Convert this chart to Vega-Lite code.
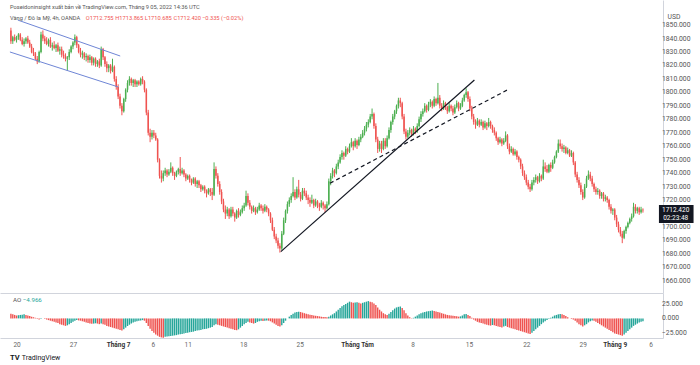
{
"$schema": "https://vega.github.io/schema/vega-lite/v6.json",
"padding": 0,
"background": "#ffffff",
"spacing": 0,
"bounds": "flush",
"config": {"view": {"stroke": null}, "font": "Roboto", "axis": {"grid": false}},
"resolve": {"scale": {"x": "independent", "y": "independent"}},
"datasets": {"k": [
{"i":0,"o":1846,"h":1848,"l":1836,"c":1838,"a":8},
{"i":1,"o":1838,"h":1842,"l":1836,"c":1841,"a":7},
{"i":2,"o":1841,"h":1843,"l":1838,"c":1839,"a":6},
{"i":3,"o":1839,"h":1842,"l":1837,"c":1841,"a":5},
{"i":4,"o":1841,"h":1844,"l":1839,"c":1843,"a":5.5},
{"i":5,"o":1843,"h":1844,"l":1838,"c":1839,"a":6},
{"i":6,"o":1839,"h":1841,"l":1835,"c":1836,"a":6.5},
{"i":7,"o":1836,"h":1840,"l":1834,"c":1838,"a":7},
{"i":8,"o":1838,"h":1841,"l":1836,"c":1840,"a":6},
{"i":9,"o":1840,"h":1842,"l":1836,"c":1837,"a":5},
{"i":10,"o":1837,"h":1839,"l":1833,"c":1834,"a":4},
{"i":11,"o":1834,"h":1836,"l":1829,"c":1830,"a":3},
{"i":12,"o":1830,"h":1833,"l":1827,"c":1829,"a":2},
{"i":13,"o":1829,"h":1830,"l":1824,"c":1825,"a":1},
{"i":14,"o":1825,"h":1827,"l":1821,"c":1823,"a":-1},
{"i":15,"o":1823,"h":1831,"l":1822,"c":1830,"a":-2},
{"i":16,"o":1830,"h":1845,"l":1829,"c":1843,"a":-1},
{"i":17,"o":1843,"h":1846,"l":1838,"c":1840,"a":0},
{"i":18,"o":1840,"h":1842,"l":1836,"c":1838,"a":-1},
{"i":19,"o":1838,"h":1841,"l":1835,"c":1836,"a":-2},
{"i":20,"o":1836,"h":1840,"l":1834,"c":1839,"a":-3},
{"i":21,"o":1839,"h":1841,"l":1833,"c":1834,"a":-4},
{"i":22,"o":1834,"h":1837,"l":1831,"c":1835,"a":-5},
{"i":23,"o":1835,"h":1838,"l":1832,"c":1833,"a":-6},
{"i":24,"o":1833,"h":1836,"l":1830,"c":1835,"a":-7},
{"i":25,"o":1835,"h":1837,"l":1830,"c":1831,"a":-8},
{"i":26,"o":1831,"h":1834,"l":1828,"c":1832,"a":-10},
{"i":27,"o":1832,"h":1834,"l":1826,"c":1828,"a":-11},
{"i":28,"o":1828,"h":1831,"l":1825,"c":1827,"a":-12},
{"i":29,"o":1827,"h":1829,"l":1823,"c":1825,"a":-13},
{"i":30,"o":1825,"h":1827,"l":1816,"c":1826,"a":-12},
{"i":31,"o":1826,"h":1832,"l":1824,"c":1830,"a":-10},
{"i":32,"o":1830,"h":1835,"l":1829,"c":1834,"a":-8},
{"i":33,"o":1834,"h":1838,"l":1832,"c":1837,"a":-6},
{"i":34,"o":1837,"h":1843,"l":1835,"c":1841,"a":-4},
{"i":35,"o":1841,"h":1842,"l":1833,"c":1835,"a":-3},
{"i":36,"o":1835,"h":1836,"l":1829,"c":1830,"a":-3.5},
{"i":37,"o":1830,"h":1833,"l":1826,"c":1828,"a":-4},
{"i":38,"o":1828,"h":1831,"l":1825,"c":1829,"a":-5},
{"i":39,"o":1829,"h":1830,"l":1824,"c":1826,"a":-6},
{"i":40,"o":1826,"h":1829,"l":1823,"c":1827,"a":-7},
{"i":41,"o":1827,"h":1828,"l":1822,"c":1824,"a":-8},
{"i":42,"o":1824,"h":1828,"l":1822,"c":1826,"a":-9},
{"i":43,"o":1826,"h":1827,"l":1820,"c":1822,"a":-9.5},
{"i":44,"o":1822,"h":1826,"l":1820,"c":1825,"a":-9},
{"i":45,"o":1825,"h":1826,"l":1819,"c":1821,"a":-8.5},
{"i":46,"o":1821,"h":1824,"l":1819,"c":1823,"a":-9},
{"i":47,"o":1823,"h":1825,"l":1818,"c":1820,"a":-10},
{"i":48,"o":1820,"h":1834,"l":1819,"c":1832,"a":-9},
{"i":49,"o":1832,"h":1833,"l":1824,"c":1826,"a":-10},
{"i":50,"o":1826,"h":1827,"l":1819,"c":1821,"a":-11},
{"i":51,"o":1821,"h":1823,"l":1815,"c":1818,"a":-13},
{"i":52,"o":1818,"h":1821,"l":1815,"c":1820,"a":-14},
{"i":53,"o":1820,"h":1821,"l":1814,"c":1816,"a":-15},
{"i":54,"o":1816,"h":1825,"l":1815,"c":1819,"a":-16},
{"i":55,"o":1819,"h":1820,"l":1808,"c":1810,"a":-17},
{"i":56,"o":1810,"h":1812,"l":1802,"c":1804,"a":-18},
{"i":57,"o":1804,"h":1806,"l":1795,"c":1797,"a":-19},
{"i":58,"o":1797,"h":1799,"l":1788,"c":1790,"a":-20},
{"i":59,"o":1790,"h":1792,"l":1783,"c":1786,"a":-21},
{"i":60,"o":1786,"h":1796,"l":1785,"c":1795,"a":-19},
{"i":61,"o":1795,"h":1803,"l":1793,"c":1802,"a":-16},
{"i":62,"o":1802,"h":1809,"l":1800,"c":1807,"a":-13},
{"i":63,"o":1807,"h":1812,"l":1805,"c":1810,"a":-11},
{"i":64,"o":1810,"h":1811,"l":1805,"c":1807,"a":-9},
{"i":65,"o":1807,"h":1810,"l":1804,"c":1809,"a":-7},
{"i":66,"o":1809,"h":1810,"l":1804,"c":1806,"a":-6},
{"i":67,"o":1806,"h":1809,"l":1804,"c":1808,"a":-5},
{"i":68,"o":1808,"h":1809,"l":1805,"c":1806,"a":-4},
{"i":69,"o":1806,"h":1811,"l":1805,"c":1810,"a":-3.5},
{"i":70,"o":1810,"h":1812,"l":1806,"c":1808,"a":-3},
{"i":71,"o":1808,"h":1809,"l":1800,"c":1802,"a":-4},
{"i":72,"o":1802,"h":1803,"l":1783,"c":1785,"a":-8},
{"i":73,"o":1785,"h":1787,"l":1768,"c":1770,"a":-13},
{"i":74,"o":1770,"h":1773,"l":1763,"c":1767,"a":-18},
{"i":75,"o":1767,"h":1772,"l":1765,"c":1770,"a":-22},
{"i":76,"o":1770,"h":1772,"l":1766,"c":1768,"a":-25},
{"i":77,"o":1768,"h":1770,"l":1764,"c":1765,"a":-28},
{"i":78,"o":1765,"h":1766,"l":1748,"c":1750,"a":-30},
{"i":79,"o":1750,"h":1751,"l":1736,"c":1738,"a":-32},
{"i":80,"o":1738,"h":1742,"l":1733,"c":1736,"a":-33},
{"i":81,"o":1736,"h":1742,"l":1734,"c":1740,"a":-33.5},
{"i":82,"o":1740,"h":1744,"l":1738,"c":1742,"a":-32},
{"i":83,"o":1742,"h":1743,"l":1737,"c":1739,"a":-31.5},
{"i":84,"o":1739,"h":1743,"l":1738,"c":1741,"a":-31},
{"i":85,"o":1741,"h":1748,"l":1740,"c":1744,"a":-30.5},
{"i":86,"o":1744,"h":1745,"l":1738,"c":1740,"a":-30},
{"i":87,"o":1740,"h":1741,"l":1735,"c":1738,"a":-29.5},
{"i":88,"o":1738,"h":1742,"l":1737,"c":1741,"a":-29},
{"i":89,"o":1741,"h":1744,"l":1739,"c":1743,"a":-28},
{"i":90,"o":1743,"h":1752,"l":1738,"c":1740,"a":-27.5},
{"i":91,"o":1740,"h":1744,"l":1739,"c":1742,"a":-27},
{"i":92,"o":1742,"h":1743,"l":1737,"c":1739,"a":-26},
{"i":93,"o":1739,"h":1740,"l":1734,"c":1736,"a":-25.5},
{"i":94,"o":1736,"h":1739,"l":1735,"c":1738,"a":-25},
{"i":95,"o":1738,"h":1739,"l":1733,"c":1735,"a":-24},
{"i":96,"o":1735,"h":1736,"l":1731,"c":1733,"a":-23.5},
{"i":97,"o":1733,"h":1737,"l":1732,"c":1736,"a":-23},
{"i":98,"o":1736,"h":1737,"l":1730,"c":1732,"a":-22},
{"i":99,"o":1732,"h":1735,"l":1729,"c":1734,"a":-21},
{"i":100,"o":1734,"h":1735,"l":1729,"c":1731,"a":-20.5},
{"i":101,"o":1731,"h":1732,"l":1726,"c":1728,"a":-20},
{"i":102,"o":1728,"h":1731,"l":1727,"c":1730,"a":-19},
{"i":103,"o":1730,"h":1731,"l":1725,"c":1727,"a":-18.5},
{"i":104,"o":1727,"h":1728,"l":1722,"c":1725,"a":-18},
{"i":105,"o":1725,"h":1729,"l":1724,"c":1728,"a":-17},
{"i":106,"o":1728,"h":1729,"l":1723,"c":1726,"a":-16},
{"i":107,"o":1726,"h":1729,"l":1720,"c":1724,"a":-15},
{"i":108,"o":1724,"h":1748,"l":1723,"c":1743,"a":-12},
{"i":109,"o":1743,"h":1745,"l":1736,"c":1738,"a":-10},
{"i":110,"o":1738,"h":1740,"l":1730,"c":1732,"a":-11},
{"i":111,"o":1732,"h":1734,"l":1724,"c":1726,"a":-12},
{"i":112,"o":1726,"h":1728,"l":1717,"c":1719,"a":-13},
{"i":113,"o":1719,"h":1721,"l":1711,"c":1713,"a":-14},
{"i":114,"o":1713,"h":1716,"l":1706,"c":1710,"a":-15},
{"i":115,"o":1710,"h":1715,"l":1708,"c":1713,"a":-16},
{"i":116,"o":1713,"h":1714,"l":1706,"c":1708,"a":-17},
{"i":117,"o":1708,"h":1715,"l":1707,"c":1713,"a":-18},
{"i":118,"o":1713,"h":1715,"l":1708,"c":1710,"a":-19},
{"i":119,"o":1710,"h":1711,"l":1704,"c":1707,"a":-20},
{"i":120,"o":1707,"h":1713,"l":1706,"c":1712,"a":-20.5},
{"i":121,"o":1712,"h":1714,"l":1707,"c":1709,"a":-19},
{"i":122,"o":1709,"h":1713,"l":1708,"c":1711,"a":-16},
{"i":123,"o":1711,"h":1716,"l":1710,"c":1714,"a":-13},
{"i":124,"o":1714,"h":1718,"l":1712,"c":1716,"a":-10},
{"i":125,"o":1716,"h":1727,"l":1715,"c":1723,"a":-8},
{"i":126,"o":1723,"h":1725,"l":1716,"c":1718,"a":-6},
{"i":127,"o":1718,"h":1720,"l":1713,"c":1715,"a":-7},
{"i":128,"o":1715,"h":1716,"l":1710,"c":1712,"a":-8},
{"i":129,"o":1712,"h":1716,"l":1711,"c":1714,"a":-9},
{"i":130,"o":1714,"h":1715,"l":1709,"c":1711,"a":-8},
{"i":131,"o":1711,"h":1715,"l":1710,"c":1713,"a":-6},
{"i":132,"o":1713,"h":1718,"l":1712,"c":1716,"a":-5},
{"i":133,"o":1716,"h":1717,"l":1712,"c":1714,"a":-4},
{"i":134,"o":1714,"h":1716,"l":1710,"c":1712,"a":-4.5},
{"i":135,"o":1712,"h":1717,"l":1711,"c":1715,"a":-4},
{"i":136,"o":1715,"h":1716,"l":1711,"c":1713,"a":-3.5},
{"i":137,"o":1713,"h":1714,"l":1708,"c":1710,"a":-4},
{"i":138,"o":1710,"h":1711,"l":1703,"c":1705,"a":-5},
{"i":139,"o":1705,"h":1707,"l":1697,"c":1698,"a":-7},
{"i":140,"o":1698,"h":1700,"l":1691,"c":1693,"a":-9},
{"i":141,"o":1693,"h":1695,"l":1688,"c":1690,"a":-11},
{"i":142,"o":1690,"h":1692,"l":1684,"c":1686,"a":-13},
{"i":143,"o":1686,"h":1688,"l":1681,"c":1684,"a":-14},
{"i":144,"o":1684,"h":1697,"l":1683,"c":1695,"a":-12},
{"i":145,"o":1695,"h":1707,"l":1694,"c":1705,"a":-8},
{"i":146,"o":1705,"h":1713,"l":1703,"c":1712,"a":-4},
{"i":147,"o":1712,"h":1719,"l":1710,"c":1717,"a":0},
{"i":148,"o":1717,"h":1722,"l":1715,"c":1720,"a":3},
{"i":149,"o":1720,"h":1725,"l":1718,"c":1723,"a":6},
{"i":150,"o":1723,"h":1737,"l":1722,"c":1726,"a":8},
{"i":151,"o":1726,"h":1728,"l":1720,"c":1722,"a":10},
{"i":152,"o":1722,"h":1730,"l":1721,"c":1728,"a":11},
{"i":153,"o":1728,"h":1735,"l":1722,"c":1724,"a":11.5},
{"i":154,"o":1724,"h":1726,"l":1719,"c":1721,"a":11},
{"i":155,"o":1721,"h":1729,"l":1720,"c":1727,"a":10},
{"i":156,"o":1727,"h":1729,"l":1723,"c":1725,"a":9},
{"i":157,"o":1725,"h":1727,"l":1720,"c":1722,"a":8},
{"i":158,"o":1722,"h":1724,"l":1717,"c":1720,"a":7},
{"i":159,"o":1720,"h":1722,"l":1715,"c":1718,"a":6.5},
{"i":160,"o":1718,"h":1724,"l":1717,"c":1720,"a":6},
{"i":161,"o":1720,"h":1721,"l":1714,"c":1716,"a":5},
{"i":162,"o":1716,"h":1721,"l":1715,"c":1719,"a":4.5},
{"i":163,"o":1719,"h":1720,"l":1714,"c":1717,"a":4},
{"i":164,"o":1717,"h":1718,"l":1712,"c":1715,"a":3.5},
{"i":165,"o":1715,"h":1720,"l":1714,"c":1718,"a":3},
{"i":166,"o":1718,"h":1719,"l":1713,"c":1716,"a":2.5},
{"i":167,"o":1716,"h":1717,"l":1711,"c":1714,"a":2.2},
{"i":168,"o":1714,"h":1719,"l":1713,"c":1717,"a":2},
{"i":169,"o":1717,"h":1736,"l":1716,"c":1734,"a":3},
{"i":170,"o":1734,"h":1740,"l":1731,"c":1738,"a":5},
{"i":171,"o":1738,"h":1744,"l":1736,"c":1742,"a":7},
{"i":172,"o":1742,"h":1743,"l":1737,"c":1740,"a":9},
{"i":173,"o":1740,"h":1747,"l":1739,"c":1745,"a":12},
{"i":174,"o":1745,"h":1750,"l":1743,"c":1748,"a":15},
{"i":175,"o":1748,"h":1754,"l":1747,"c":1752,"a":18},
{"i":176,"o":1752,"h":1757,"l":1750,"c":1755,"a":21},
{"i":177,"o":1755,"h":1756,"l":1750,"c":1753,"a":23},
{"i":178,"o":1753,"h":1760,"l":1752,"c":1758,"a":25},
{"i":179,"o":1758,"h":1759,"l":1754,"c":1756,"a":27},
{"i":180,"o":1756,"h":1762,"l":1755,"c":1760,"a":29},
{"i":181,"o":1760,"h":1766,"l":1759,"c":1763,"a":28},
{"i":182,"o":1763,"h":1764,"l":1757,"c":1760,"a":27},
{"i":183,"o":1760,"h":1766,"l":1759,"c":1764,"a":27.5},
{"i":184,"o":1764,"h":1765,"l":1758,"c":1761,"a":28},
{"i":185,"o":1761,"h":1767,"l":1760,"c":1765,"a":27},
{"i":186,"o":1765,"h":1769,"l":1763,"c":1767,"a":26},
{"i":187,"o":1767,"h":1772,"l":1766,"c":1770,"a":27},
{"i":188,"o":1770,"h":1775,"l":1768,"c":1773,"a":28},
{"i":189,"o":1773,"h":1778,"l":1771,"c":1776,"a":29},
{"i":190,"o":1776,"h":1780,"l":1774,"c":1778,"a":30},
{"i":191,"o":1778,"h":1784,"l":1777,"c":1782,"a":29},
{"i":192,"o":1782,"h":1788,"l":1780,"c":1784,"a":28},
{"i":193,"o":1784,"h":1785,"l":1773,"c":1775,"a":26},
{"i":194,"o":1775,"h":1777,"l":1763,"c":1765,"a":23},
{"i":195,"o":1765,"h":1767,"l":1755,"c":1758,"a":19},
{"i":196,"o":1758,"h":1764,"l":1756,"c":1762,"a":15},
{"i":197,"o":1762,"h":1764,"l":1755,"c":1758,"a":12},
{"i":198,"o":1758,"h":1766,"l":1757,"c":1764,"a":9},
{"i":199,"o":1764,"h":1766,"l":1758,"c":1760,"a":7},
{"i":200,"o":1760,"h":1768,"l":1759,"c":1766,"a":6},
{"i":201,"o":1766,"h":1774,"l":1765,"c":1772,"a":8},
{"i":202,"o":1772,"h":1779,"l":1770,"c":1778,"a":11},
{"i":203,"o":1778,"h":1784,"l":1776,"c":1782,"a":14},
{"i":204,"o":1782,"h":1787,"l":1780,"c":1786,"a":17},
{"i":205,"o":1786,"h":1791,"l":1784,"c":1790,"a":19},
{"i":206,"o":1790,"h":1796,"l":1788,"c":1794,"a":20},
{"i":207,"o":1794,"h":1796,"l":1789,"c":1792,"a":20.5},
{"i":208,"o":1792,"h":1793,"l":1780,"c":1782,"a":18},
{"i":209,"o":1782,"h":1784,"l":1769,"c":1771,"a":14},
{"i":210,"o":1771,"h":1773,"l":1765,"c":1767,"a":9},
{"i":211,"o":1767,"h":1772,"l":1766,"c":1770,"a":5},
{"i":212,"o":1770,"h":1774,"l":1768,"c":1772,"a":2},
{"i":213,"o":1772,"h":1773,"l":1767,"c":1769,"a":0.5},
{"i":214,"o":1769,"h":1775,"l":1768,"c":1773,"a":1},
{"i":215,"o":1773,"h":1774,"l":1769,"c":1771,"a":3},
{"i":216,"o":1771,"h":1777,"l":1770,"c":1775,"a":5},
{"i":217,"o":1775,"h":1782,"l":1774,"c":1780,"a":7},
{"i":218,"o":1780,"h":1786,"l":1778,"c":1784,"a":9},
{"i":219,"o":1784,"h":1788,"l":1782,"c":1786,"a":10},
{"i":220,"o":1786,"h":1792,"l":1785,"c":1790,"a":11},
{"i":221,"o":1790,"h":1791,"l":1785,"c":1787,"a":12},
{"i":222,"o":1787,"h":1793,"l":1786,"c":1791,"a":12.5},
{"i":223,"o":1791,"h":1795,"l":1789,"c":1793,"a":13},
{"i":224,"o":1793,"h":1794,"l":1788,"c":1790,"a":13.5},
{"i":225,"o":1790,"h":1797,"l":1789,"c":1795,"a":13},
{"i":226,"o":1795,"h":1796,"l":1790,"c":1792,"a":12},
{"i":227,"o":1792,"h":1807,"l":1791,"c":1796,"a":11},
{"i":228,"o":1796,"h":1798,"l":1788,"c":1790,"a":10},
{"i":229,"o":1790,"h":1792,"l":1786,"c":1788,"a":9},
{"i":230,"o":1788,"h":1794,"l":1787,"c":1792,"a":8},
{"i":231,"o":1792,"h":1793,"l":1787,"c":1789,"a":7},
{"i":232,"o":1789,"h":1790,"l":1784,"c":1786,"a":6},
{"i":233,"o":1786,"h":1792,"l":1785,"c":1790,"a":5.5},
{"i":234,"o":1790,"h":1791,"l":1786,"c":1788,"a":5},
{"i":235,"o":1788,"h":1790,"l":1783,"c":1785,"a":4.5},
{"i":236,"o":1785,"h":1791,"l":1784,"c":1789,"a":4},
{"i":237,"o":1789,"h":1794,"l":1788,"c":1792,"a":3.5},
{"i":238,"o":1792,"h":1793,"l":1786,"c":1788,"a":3},
{"i":239,"o":1788,"h":1792,"l":1787,"c":1790,"a":3.5},
{"i":240,"o":1790,"h":1796,"l":1789,"c":1794,"a":5},
{"i":241,"o":1794,"h":1799,"l":1793,"c":1798,"a":7},
{"i":242,"o":1798,"h":1803,"l":1796,"c":1800,"a":7.5},
{"i":243,"o":1800,"h":1801,"l":1793,"c":1795,"a":6},
{"i":244,"o":1795,"h":1797,"l":1786,"c":1788,"a":4},
{"i":245,"o":1788,"h":1790,"l":1780,"c":1782,"a":1},
{"i":246,"o":1782,"h":1784,"l":1776,"c":1778,"a":-2},
{"i":247,"o":1778,"h":1780,"l":1773,"c":1776,"a":-4},
{"i":248,"o":1776,"h":1781,"l":1775,"c":1779,"a":-6},
{"i":249,"o":1779,"h":1780,"l":1774,"c":1776,"a":-7},
{"i":250,"o":1776,"h":1780,"l":1775,"c":1778,"a":-8},
{"i":251,"o":1778,"h":1779,"l":1772,"c":1774,"a":-9},
{"i":252,"o":1774,"h":1779,"l":1773,"c":1777,"a":-10},
{"i":253,"o":1777,"h":1778,"l":1772,"c":1775,"a":-11},
{"i":254,"o":1775,"h":1781,"l":1774,"c":1778,"a":-12},
{"i":255,"o":1778,"h":1779,"l":1773,"c":1775,"a":-12.5},
{"i":256,"o":1775,"h":1776,"l":1770,"c":1772,"a":-11.5},
{"i":257,"o":1772,"h":1774,"l":1768,"c":1770,"a":-12},
{"i":258,"o":1770,"h":1771,"l":1764,"c":1766,"a":-13},
{"i":259,"o":1766,"h":1767,"l":1761,"c":1763,"a":-14},
{"i":260,"o":1763,"h":1767,"l":1762,"c":1765,"a":-15},
{"i":261,"o":1765,"h":1766,"l":1760,"c":1762,"a":-16},
{"i":262,"o":1762,"h":1766,"l":1761,"c":1764,"a":-14},
{"i":263,"o":1764,"h":1771,"l":1763,"c":1768,"a":-13},
{"i":264,"o":1768,"h":1769,"l":1758,"c":1760,"a":-15},
{"i":265,"o":1760,"h":1762,"l":1754,"c":1756,"a":-16},
{"i":266,"o":1756,"h":1760,"l":1755,"c":1758,"a":-17},
{"i":267,"o":1758,"h":1759,"l":1753,"c":1754,"a":-18},
{"i":268,"o":1754,"h":1758,"l":1753,"c":1756,"a":-19},
{"i":269,"o":1756,"h":1757,"l":1750,"c":1752,"a":-20},
{"i":270,"o":1752,"h":1753,"l":1748,"c":1750,"a":-21},
{"i":271,"o":1750,"h":1751,"l":1743,"c":1745,"a":-22},
{"i":272,"o":1745,"h":1747,"l":1738,"c":1740,"a":-23},
{"i":273,"o":1740,"h":1742,"l":1735,"c":1737,"a":-24},
{"i":274,"o":1737,"h":1739,"l":1731,"c":1733,"a":-25},
{"i":275,"o":1733,"h":1735,"l":1728,"c":1730,"a":-26},
{"i":276,"o":1730,"h":1732,"l":1726,"c":1728,"a":-27},
{"i":277,"o":1728,"h":1735,"l":1727,"c":1733,"a":-25},
{"i":278,"o":1733,"h":1737,"l":1731,"c":1735,"a":-22},
{"i":279,"o":1735,"h":1739,"l":1733,"c":1737,"a":-19},
{"i":280,"o":1737,"h":1738,"l":1732,"c":1734,"a":-16},
{"i":281,"o":1734,"h":1740,"l":1733,"c":1738,"a":-13},
{"i":282,"o":1738,"h":1739,"l":1734,"c":1736,"a":-10},
{"i":283,"o":1736,"h":1750,"l":1735,"c":1745,"a":-7},
{"i":284,"o":1745,"h":1748,"l":1741,"c":1743,"a":-5},
{"i":285,"o":1743,"h":1746,"l":1740,"c":1741,"a":-3},
{"i":286,"o":1741,"h":1747,"l":1740,"c":1746,"a":-1},
{"i":287,"o":1746,"h":1748,"l":1741,"c":1744,"a":1},
{"i":288,"o":1744,"h":1750,"l":1743,"c":1748,"a":3},
{"i":289,"o":1748,"h":1753,"l":1747,"c":1752,"a":5},
{"i":290,"o":1752,"h":1757,"l":1751,"c":1756,"a":6},
{"i":291,"o":1756,"h":1765,"l":1755,"c":1762,"a":7},
{"i":292,"o":1762,"h":1765,"l":1758,"c":1760,"a":7.5},
{"i":293,"o":1760,"h":1762,"l":1756,"c":1758,"a":7},
{"i":294,"o":1758,"h":1761,"l":1755,"c":1759,"a":6},
{"i":295,"o":1759,"h":1760,"l":1754,"c":1755,"a":4},
{"i":296,"o":1755,"h":1759,"l":1754,"c":1757,"a":2},
{"i":297,"o":1757,"h":1758,"l":1752,"c":1753,"a":0},
{"i":298,"o":1753,"h":1757,"l":1752,"c":1755,"a":-1},
{"i":299,"o":1755,"h":1756,"l":1746,"c":1748,"a":-2},
{"i":300,"o":1748,"h":1749,"l":1737,"c":1739,"a":-4},
{"i":301,"o":1739,"h":1741,"l":1733,"c":1735,"a":-7},
{"i":302,"o":1735,"h":1737,"l":1729,"c":1731,"a":-10},
{"i":303,"o":1731,"h":1733,"l":1724,"c":1726,"a":-12},
{"i":304,"o":1726,"h":1728,"l":1720,"c":1722,"a":-14},
{"i":305,"o":1722,"h":1732,"l":1721,"c":1730,"a":-12},
{"i":306,"o":1730,"h":1738,"l":1729,"c":1736,"a":-10},
{"i":307,"o":1736,"h":1742,"l":1735,"c":1739,"a":-7},
{"i":308,"o":1739,"h":1741,"l":1734,"c":1736,"a":-5},
{"i":309,"o":1736,"h":1738,"l":1730,"c":1732,"a":-3.5},
{"i":310,"o":1732,"h":1733,"l":1726,"c":1728,"a":-4},
{"i":311,"o":1728,"h":1730,"l":1724,"c":1726,"a":-6},
{"i":312,"o":1726,"h":1729,"l":1724,"c":1727,"a":-8},
{"i":313,"o":1727,"h":1728,"l":1721,"c":1723,"a":-10},
{"i":314,"o":1723,"h":1726,"l":1721,"c":1725,"a":-12},
{"i":315,"o":1725,"h":1726,"l":1719,"c":1721,"a":-14},
{"i":316,"o":1721,"h":1724,"l":1719,"c":1722,"a":-16},
{"i":317,"o":1722,"h":1723,"l":1718,"c":1720,"a":-18},
{"i":318,"o":1720,"h":1721,"l":1713,"c":1715,"a":-20},
{"i":319,"o":1715,"h":1717,"l":1710,"c":1712,"a":-22},
{"i":320,"o":1712,"h":1714,"l":1709,"c":1713,"a":-24},
{"i":321,"o":1713,"h":1714,"l":1705,"c":1707,"a":-26},
{"i":322,"o":1707,"h":1709,"l":1700,"c":1702,"a":-27},
{"i":323,"o":1702,"h":1704,"l":1696,"c":1698,"a":-28},
{"i":324,"o":1698,"h":1700,"l":1693,"c":1695,"a":-29},
{"i":325,"o":1695,"h":1697,"l":1688,"c":1692,"a":-30},
{"i":326,"o":1692,"h":1698,"l":1691,"c":1697,"a":-28},
{"i":327,"o":1697,"h":1701,"l":1695,"c":1700,"a":-25},
{"i":328,"o":1700,"h":1704,"l":1699,"c":1703,"a":-22},
{"i":329,"o":1703,"h":1707,"l":1702,"c":1706,"a":-19},
{"i":330,"o":1706,"h":1710,"l":1704,"c":1708,"a":-16},
{"i":331,"o":1708,"h":1718,"l":1707,"c":1715,"a":-13},
{"i":332,"o":1715,"h":1717,"l":1710,"c":1712,"a":-11},
{"i":333,"o":1712,"h":1715,"l":1710,"c":1714,"a":-9},
{"i":334,"o":1714,"h":1715,"l":1709,"c":1711,"a":-7},
{"i":335,"o":1711,"h":1715,"l":1710,"c":1713,"a":-6},
{"i":336,"o":1712.755,"h":1713.865,"l":1710.685,"c":1712.42,"a":-4.966}
]},
"vconcat": [
{
 "width": 663, "height": 293,
 "layer": [
  {"data": {"name": "k"},
   "mark": {"type": "rule", "strokeWidth": 1},
   "encoding": {
    "x": {"field": "i", "type": "quantitative", "scale": {"domain": [-3.14, 344], "nice": false, "zero": false},
          "axis": {"labels": false, "ticks": false, "domain": true, "domainColor": "#d1d4dc", "title": null, "grid": false}},
    "y": {"field": "l", "type": "quantitative", "scale": {"domain": [1651, 1868.6], "nice": false, "zero": false},
          "axis": {"orient": "right", "labels": false, "ticks": false, "domainColor": "#d1d4dc", "grid": false,
                   "title": "USD", "titleAngle": 0, "titleAlign": "left", "titleBaseline": "middle", "titleX": 4, "titleY": 16,
                   "titleFontSize": 6.8, "titleFontWeight": "normal", "titleColor": "#555555"}},
    "y2": {"field": "h"},
    "color": {"condition": {"test": "datum.c >= datum.o", "value": "#4caf50"}, "value": "#ef5350"}
   }},
  {"data": {"name": "k"},
   "mark": {"type": "bar", "width": 1.5},
   "encoding": {
    "x": {"field": "i", "type": "quantitative"},
    "y": {"field": "o", "type": "quantitative"},
    "y2": {"field": "c"},
    "color": {"condition": {"test": "datum.c >= datum.o", "value": "#4caf50"}, "value": "#ef5350"}
   }},
  {"data": {"values": [{"v":1660},{"v":1670},{"v":1680},{"v":1690},{"v":1700},{"v":1720},{"v":1730},{"v":1740},{"v":1750},{"v":1760},{"v":1770},{"v":1780},{"v":1790},{"v":1800},{"v":1810},{"v":1820},{"v":1830},{"v":1840},{"v":1850}]},
   "mark": {"type": "text", "align": "left", "baseline": "middle", "fontSize": 6.8, "color": "#555555", "clip": false},
   "encoding": {"x": {"datum": 346.1, "type": "quantitative"}, "y": {"field": "v", "type": "quantitative"}, "text": {"field": "v", "type": "quantitative", "format": ".3f"}}},
  {"data": {"values": [{}]},
   "mark": {"type": "rule", "color": "#6f86d6", "strokeWidth": 1},
   "encoding": {"x": {"datum": 3.66, "type": "quantitative"}, "y": {"datum": 1853.7, "type": "quantitative"}, "x2": {"datum": 58.1}, "y2": {"datum": 1827.0}}},
  {"data": {"values": [{}]},
   "mark": {"type": "rule", "color": "#6f86d6", "strokeWidth": 1},
   "encoding": {"x": {"datum": -0.52, "type": "quantitative"}, "y": {"datum": 1830.0, "type": "quantitative"}, "x2": {"datum": 57.1}, "y2": {"datum": 1804.0}}},
  {"data": {"values": [{}]},
   "mark": {"type": "rule", "color": "#131722", "strokeWidth": 1.2},
   "encoding": {"x": {"datum": 143.5, "type": "quantitative"}, "y": {"datum": 1681.7, "type": "quantitative"}, "x2": {"datum": 246.4}, "y2": {"datum": 1809.2}}},
  {"data": {"values": [{}]},
   "mark": {"type": "rule", "color": "#131722", "strokeWidth": 1.2, "strokeDash": [4, 3]},
   "encoding": {"x": {"datum": 169.6, "type": "quantitative"}, "y": {"datum": 1732.5, "type": "quantitative"}, "x2": {"datum": 263.9}, "y2": {"datum": 1801.8}}},
  {"data": {"values": [{}]},
   "mark": {"type": "text", "text": "Poseidoninsight xuất bản về TradingView.com, Tháng 9 05, 2022 14:36 UTC", "align": "left", "baseline": "middle", "fontSize": 5.7, "color": "#555555"},
   "encoding": {"x": {"datum": -0.52, "type": "quantitative"}, "y": {"datum": 1863.4, "type": "quantitative"}}},
  {"data": {"values": [{}]},
   "mark": {"type": "text", "text": "Vàng / Đô la Mỹ, 4h, OANDA", "align": "left", "baseline": "middle", "fontSize": 5.7, "color": "#555555"},
   "encoding": {"x": {"datum": -0.52, "type": "quantitative"}, "y": {"datum": 1855.2, "type": "quantitative"}}},
  {"data": {"values": [{}]},
   "mark": {"type": "text", "text": "O1712.755", "align": "left", "baseline": "middle", "fontSize": 5.7, "color": "#ef5350"},
   "encoding": {"x": {"datum": 39.8, "type": "quantitative"}, "y": {"datum": 1855.2, "type": "quantitative"}}},
  {"data": {"values": [{}]},
   "mark": {"type": "text", "text": "H1713.865", "align": "left", "baseline": "middle", "fontSize": 5.7, "color": "#ef5350"},
   "encoding": {"x": {"datum": 55.5, "type": "quantitative"}, "y": {"datum": 1855.2, "type": "quantitative"}}},
  {"data": {"values": [{}]},
   "mark": {"type": "text", "text": "L1710.685", "align": "left", "baseline": "middle", "fontSize": 5.7, "color": "#ef5350"},
   "encoding": {"x": {"datum": 71.2, "type": "quantitative"}, "y": {"datum": 1855.2, "type": "quantitative"}}},
  {"data": {"values": [{}]},
   "mark": {"type": "text", "text": "C1712.420", "align": "left", "baseline": "middle", "fontSize": 5.7, "color": "#ef5350"},
   "encoding": {"x": {"datum": 86.4, "type": "quantitative"}, "y": {"datum": 1855.2, "type": "quantitative"}}},
  {"data": {"values": [{}]},
   "mark": {"type": "text", "text": "−0.335 (−0.02%)", "align": "left", "baseline": "middle", "fontSize": 5.7, "color": "#ef5350"},
   "encoding": {"x": {"datum": 101.6, "type": "quantitative"}, "y": {"datum": 1855.2, "type": "quantitative"}}},
  {"data": {"values": [{}]},
   "mark": {"type": "rect", "color": "#131722", "clip": false},
   "encoding": {"x": {"datum": 344.5, "type": "quantitative"}, "x2": {"datum": 362.9}, "y": {"datum": 1716.4, "type": "quantitative"}, "y2": {"datum": 1703.0}}},
  {"data": {"values": [{}]},
   "mark": {"type": "text", "text": "1712.420", "align": "center", "baseline": "middle", "fontSize": 6.5, "color": "#ffffff"},
   "encoding": {"x": {"datum": 353.4, "type": "quantitative"}, "y": {"datum": 1712.4, "type": "quantitative"}}},
  {"data": {"values": [{}]},
   "mark": {"type": "text", "text": "02:23:48", "align": "center", "baseline": "middle", "fontSize": 6.5, "color": "#ffffff"},
   "encoding": {"x": {"datum": 353.4, "type": "quantitative"}, "y": {"datum": 1706.4, "type": "quantitative"}}}
 ]
},
{
 "width": 663, "height": 45,
 "layer": [
  {"data": {"name": "k"},
   "transform": [{"window": [{"op": "lag", "field": "a", "as": "pa"}], "sort": [{"field": "i", "order": "ascending"}]}],
   "mark": {"type": "bar", "width": 1.4},
   "encoding": {
    "x": {"field": "i", "type": "quantitative", "scale": {"domain": [-3.14, 344], "nice": false, "zero": false},
          "axis": {"orient": "bottom", "values": [3, 33, 57, 75.5, 94, 123.5, 153.5, 184, 213.5, 243.5, 274, 304, 321, 340],
                   "labelExpr": "{'3':'20','33':'27','57':'Tháng 7','75.5':'6','94':'11','123.5':'18','153.5':'25','184':'Tháng Tám','213.5':'8','243.5':'15','274':'22','304':'29','321':'Tháng 9','340':'6'}['' + datum.value]",
                   "labelFontWeight": {"condition": {"test": "datum.value == 57 || datum.value == 184 || datum.value == 321", "value": "bold"}, "value": "normal"},
                   "labelColor": {"condition": {"test": "datum.value == 57 || datum.value == 184 || datum.value == 321", "value": "#333333"}, "value": "#666666"},
                   "labelFontSize": 6.5, "labelPadding": 3, "ticks": false, "domainColor": "#d1d4dc", "labelOverlap": false, "labelFlush": false, "title": null, "grid": false}},
    "y": {"field": "a", "type": "quantitative", "scale": {"domain": [-34, 44], "nice": false},
          "axis": {"orient": "right", "labels": false, "ticks": false, "domainColor": "#d1d4dc", "grid": false, "title": null}},
    "color": {"condition": {"test": "datum.pa != null && datum.a >= datum.pa", "value": "#26a69a"}, "value": "#ef5350"}
   }},
  {"data": {"values": [{"v": -25}, {"v": 0}, {"v": 25}]},
   "mark": {"type": "text", "align": "left", "baseline": "middle", "fontSize": 6.8, "color": "#555555", "clip": false},
   "encoding": {"x": {"datum": 346.1, "type": "quantitative"}, "y": {"field": "v", "type": "quantitative"}, "text": {"field": "v", "type": "quantitative", "format": ".3f"}}},
  {"data": {"values": [{}]},
   "mark": {"type": "text", "text": "AO", "align": "left", "baseline": "middle", "fontSize": 6.2, "color": "#555555"},
   "encoding": {"x": {"datum": 1.05, "type": "quantitative"}, "y": {"datum": 31.9, "type": "quantitative"}}},
  {"data": {"values": [{}]},
   "mark": {"type": "text", "text": "−4.966", "align": "left", "baseline": "middle", "fontSize": 6.2, "color": "#26a69a"},
   "encoding": {"x": {"datum": 6.3, "type": "quantitative"}, "y": {"datum": 31.9, "type": "quantitative"}}},
  {"data": {"values": [{}]},
   "mark": {"type": "text", "text": "TV", "align": "left", "baseline": "middle", "fontSize": 7.5, "fontWeight": "bold", "color": "#131722"},
   "encoding": {"x": {"datum": -0.52, "type": "quantitative"}, "y": {"datum": -68.6, "type": "quantitative"}}},
  {"data": {"values": [{}]},
   "mark": {"type": "text", "text": "TradingView", "align": "left", "baseline": "middle", "fontSize": 7, "color": "#131722"},
   "encoding": {"x": {"datum": 5.8, "type": "quantitative"}, "y": {"datum": -68.6, "type": "quantitative"}}}
 ]
}
]
}
